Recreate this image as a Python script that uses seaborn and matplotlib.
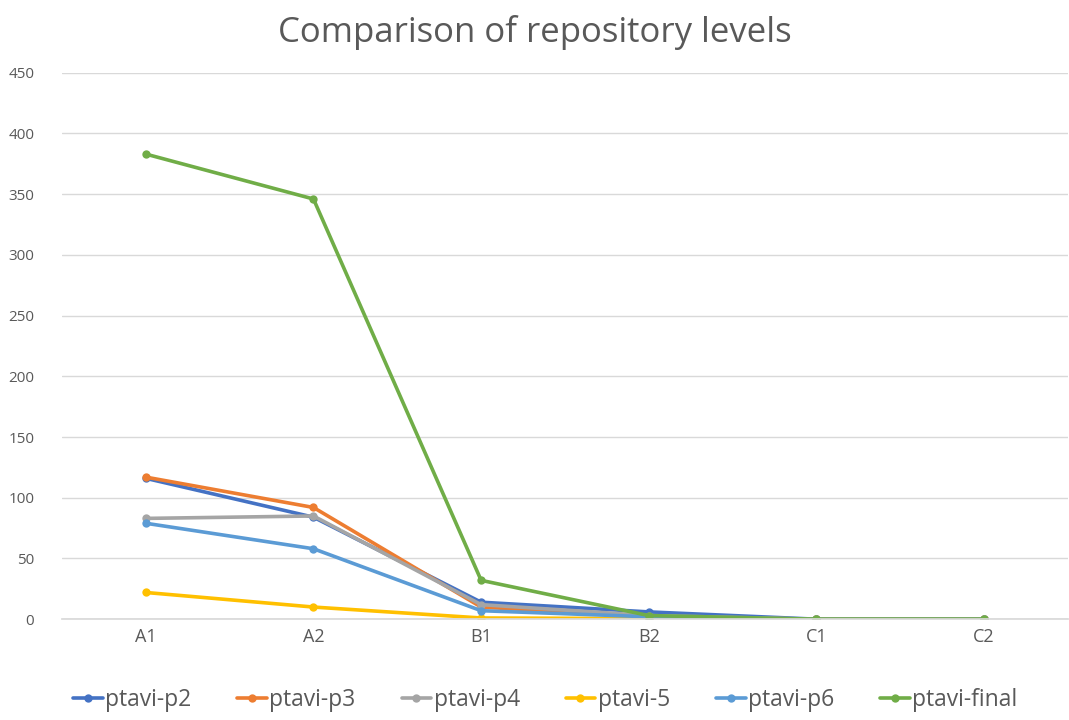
import matplotlib
matplotlib.use("Agg")
import matplotlib.pyplot as plt
import seaborn as sns
import pandas as pd
import numpy as np

levels = ["A1", "A2", "B1", "B2", "C1", "C2"]
series_names = ["ptavi-p2", "ptavi-p3", "ptavi-p4", "ptavi-5", "ptavi-p6", "ptavi-final"]
p2 = [116, 84, 14, 6, 0, 0]
p3 = [117, 92, 10, 2, 0, 0]
p4 = [83, 85, 12, 3, 0, 0]
p5 = [22, 10, 1, 0.5, 0, 0]
p6 = [79, 58, 7, 2, 0, 0]
final = [383, 346, 32, 3, 0, 0]
colors = ["#4472C4", "#ED7D31", "#A5A5A5", "#FFC000", "#5B9BD5", "#70AD47"]

values = [p2, p3, p4, p5, p6, final]
rows = []
for name, vals in zip(series_names, values):
    for i, (lvl, v) in enumerate(zip(levels, vals)):
        rows.append({"series": name, "pos": i, "level": lvl, "value": v})
df = pd.DataFrame(rows)

sns.set_theme(style="white")
plt.rcParams['font.family'] = ['Open Sans', 'DejaVu Sans']

fig = plt.figure(figsize=(10.69, 7.2), dpi=100)
ax = fig.add_axes([0.058, 0.140, 0.941, 0.759])

sns.lineplot(data=df, x="pos", y="value", hue="series", hue_order=series_names,
             palette=colors, marker="o", markersize=6, markeredgewidth=0,
             linewidth=2.6, dashes=False, ax=ax, legend=True, sort=False)

ax.set_xlim(-0.5, 5.5)
ax.set_ylim(0, 450)
ax.set_yticks(np.arange(0, 451, 50))
ax.set_xticks(range(len(levels)))
ax.set_xticklabels(levels)
ax.set_xlabel("")
ax.set_ylabel("")
ax.yaxis.grid(True, color="#D9D9D9", linewidth=1)
ax.set_axisbelow(True)
for s in ["top", "right", "left"]:
    ax.spines[s].set_visible(False)
ax.spines["bottom"].set_color("#D9D9D9")
ax.tick_params(axis="both", length=0, colors="#595959")
ax.tick_params(axis="x", pad=6, labelsize=13)
ax.tick_params(axis="y", pad=20, labelsize=11)

fig.text(0.5, 0.955, "Comparison of repository levels", ha="center", va="center",
         fontsize=25, color="#595959")

handles, labels = ax.get_legend_handles_labels()
ax.legend_.remove()
fig.legend(handles, labels, loc="center", bbox_to_anchor=(0.51, 0.028), ncol=6,
           frameon=False, fontsize=16.5, handlelength=1.3, handletextpad=0.1,
           columnspacing=2.0, labelcolor="#595959")

fig.savefig("out.png", dpi=100, facecolor="white")
